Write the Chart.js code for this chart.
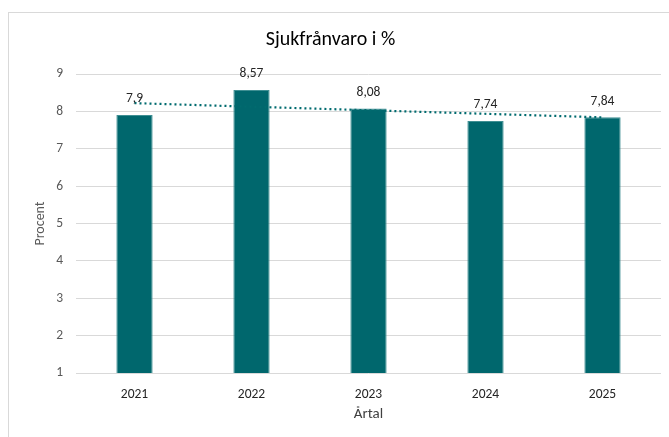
<!DOCTYPE html>
<html>
<head>
<meta charset="utf-8">
<script src="https://cdn.jsdelivr.net/npm/chart.js@4/dist/chart.umd.min.js"></script>
<style>
  html, body { margin: 0; padding: 0; background: #fff; }
  #wrap { position: relative; width: 669px; height: 437px; overflow: hidden; }
  #frame { position: absolute; left: 8px; top: 12px; width: 700px; height: 500px; border: 1px solid #d9d9d9; box-sizing: border-box; }
  canvas { position: absolute; left: 0; top: 0; }
</style>
</head>
<body>
<div id="wrap">
  <div id="frame"></div>
  <canvas id="c" width="669" height="437"></canvas>
</div>
<script>
const categories = ['2021', '2022', '2023', '2024', '2025'];
const sickLeave = [7.9, 8.57, 8.08, 7.74, 7.84];
const trendLine = [8.22, null, null, null, 7.84];
const yTicks = [1, 2, 3, 4, 5, 6, 7, 8, 9];

const FONT = 'Carlito, Lato, "Open Sans", sans-serif';

const labelPlugin = {
  id: 'barLabels',
  afterDatasetsDraw(chart) {
    const ctx = chart.ctx;
    const meta = chart.getDatasetMeta(1);
    ctx.save();
    ctx.font = '13.5px ' + FONT;
    ctx.fillStyle = '#262626';
    ctx.textAlign = 'center';
    ctx.textBaseline = 'middle';
    meta.data.forEach((bar, i) => {
      const txt = String(sickLeave[i]).replace('.', ',');
      ctx.fillText(txt, bar.x, bar.y - 16);
    });
    ctx.restore();
  }
};

new Chart(document.getElementById('c'), {
  data: {
    labels: categories,
    datasets: [
      {
        type: 'line',
        data: trendLine,
        spanGaps: true,
        borderColor: '#006b6f',
        borderWidth: 2.2,
        borderDash: [2, 3],
        pointRadius: 0,
        fill: false,
        order: 1
      },
      {
        type: 'bar',
        data: sickLeave,
        backgroundColor: '#00676d',
        borderColor: '#3f8f93',
        borderWidth: 1,
        barPercentage: 0.31,
        categoryPercentage: 1,
        order: 2
      }
    ]
  },
  options: {
    responsive: false,
    animation: false,
    devicePixelRatio: 1,
    layout: { padding: { left: 0, right: 8, top: 0, bottom: 14 } },
    plugins: {
      legend: { display: false },
      tooltip: { enabled: false },
      title: {
        display: true,
        text: 'Sjukfrånvaro i %',
        color: '#000',
        font: { family: FONT, size: 20, weight: 'normal' },
        padding: { top: 28, bottom: 22 }
      }
    },
    scales: {
      x: {
        grid: { display: false, drawTicks: false },
        border: { display: false },
        ticks: { color: '#262626', font: { family: FONT, size: 13.5 }, padding: 14 },
        title: { display: true, text: 'Årtal', color: '#404040', font: { family: FONT, size: 15 }, padding: { top: 3, bottom: 0 } },
        afterFit(s) { s.height = 50; }
      },
      y: {
        min: 1, max: 9,
        afterBuildTicks(s) { s.ticks = yTicks.map(v => ({ value: v })); },
        grid: { color: '#d9d9d9', drawTicks: false, lineWidth: 1 },
        border: { display: false },
        ticks: { color: '#595959', font: { family: FONT, size: 13.5 }, padding: 13 },
        title: { display: true, text: 'Procent', color: '#595959', font: { family: FONT, size: 14 }, padding: { top: 32, bottom: 0 } },
        afterFit(s) { s.width = 76; }
      }
    }
  },
  plugins: [labelPlugin]
});
</script>
</body>
</html>
